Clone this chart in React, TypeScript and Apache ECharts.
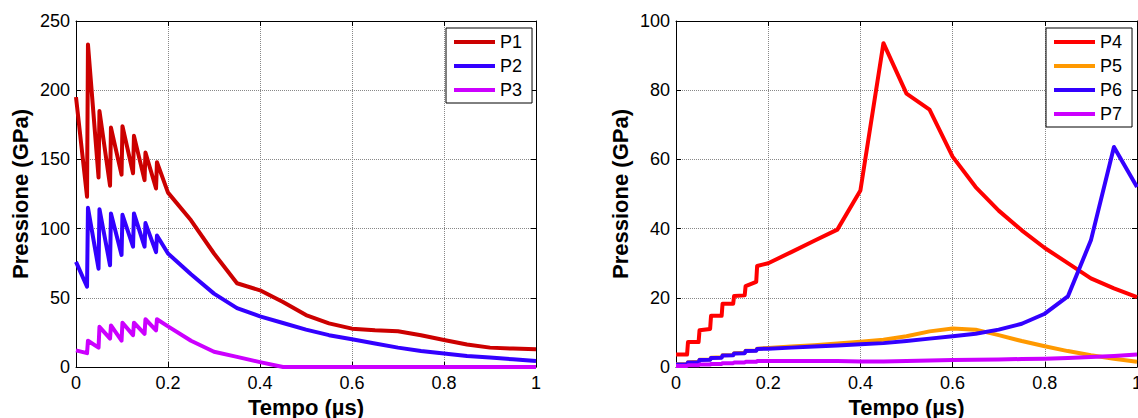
import React, { useEffect, useRef } from "react";
import * as echarts from "echarts";

// Shared time grid (µs)
const timeUs = [0, 0.024, 0.026, 0.049, 0.051, 0.074, 0.076, 0.099, 0.101, 0.124, 0.126, 0.149, 0.151, 0.174, 0.176, 0.2,
  0.25, 0.3, 0.35, 0.4, 0.45, 0.5, 0.55, 0.6, 0.65, 0.7, 0.75, 0.8, 0.85, 0.9, 0.95, 1];

// Left plot (GPa)
const p1 = [195, 123, 233, 137, 185, 131, 173, 139, 174, 140, 167, 135, 155, 129, 148, 126,
  106, 82, 60.5, 55.4, 47, 37.5, 31.5, 27.7, 26.5, 25.8, 23, 19.5, 16.3, 14, 13.3, 12.8];
const p2 = [76, 58, 115, 71, 114, 73.5, 111, 81, 110, 87, 111, 87, 104, 83, 95, 82,
  67, 53, 42.5, 36.6, 31.8, 27, 23, 20, 17, 14, 11.6, 9.7, 7.9, 6.8, 5.6, 4.3];
const p3 = [12, 10, 19, 14, 29, 20.5, 30, 19, 32, 23, 32, 24, 34.5, 26.5, 34.5, 29.4,
  19, 11, 7.3, 3.5, 0, 0, 0, 0, 0, 0, 0, 0, 0, 0, 0, 0];

// Right plot (GPa)
const p4 = [3.6, 3.6, 7.2, 7.2, 10.6, 11, 14.8, 14.8, 18.3, 18.3, 20.5, 20.7, 23.4, 24.6, 29.2, 30,
  33.2, 36.5, 39.7, 51, 93.6, 79, 74.4, 60.8, 52, 45.2, 39.5, 34.4, 30, 25.6, 22.7, 20.2];
const p5 = [0.8, 0.8, 1.4, 1.5, 2.1, 2.2, 2.7, 2.8, 3.4, 3.5, 4.0, 4.1, 4.7, 4.8, 5.3, 5.5,
  5.9, 6.3, 6.8, 7.3, 7.9, 8.9, 10.3, 11.1, 10.8, 9.2, 7.5, 6.0, 4.6, 3.4, 2.4, 1.5];
const p6 = [0.7, 0.8, 1.3, 1.4, 2.0, 2.1, 2.6, 2.7, 3.3, 3.4, 3.9, 4.0, 4.6, 4.7, 5.2, 5.3,
  5.6, 5.9, 6.2, 6.6, 6.9, 7.5, 8.2, 8.9, 9.6, 10.8, 12.5, 15.4, 20.4, 36.6, 63.6, 52];
const p7 = [0.3, 0.3, 0.5, 0.5, 0.7, 0.7, 0.9, 0.9, 1.1, 1.1, 1.3, 1.3, 1.5, 1.5, 1.7, 1.7,
  1.7, 1.7, 1.7, 1.6, 1.6, 1.7, 1.9, 2.0, 2.1, 2.2, 2.3, 2.4, 2.6, 2.9, 3.2, 3.6];

const leftNames = ["P1", "P2", "P3"];
const rightNames = ["P4", "P5", "P6", "P7"];
const leftValues = [p1, p2, p3];
const rightValues = [p4, p5, p6, p7];
const leftColors = ["#CC0000", "#3300FF", "#CC00FF"];
const rightColors = ["#FF0000", "#FF9900", "#3300FF", "#CC00FF"];

const xTitle = "Tempo (µs)";
const yTitle = "Pressione (GPa)";

const FONT = "'Liberation Sans', Arial, Helvetica, sans-serif";

function bottomX(gridIndex: number) {
  return {
    gridIndex,
    type: "value",
    min: 0,
    max: 1,
    interval: 0.2,
    name: xTitle,
    nameLocation: "middle",
    nameGap: 29,
    nameTextStyle: { fontSize: 22, fontWeight: "bold", color: "#000", fontFamily: FONT },
    axisLine: { show: true, onZero: false, lineStyle: { color: "#000", width: 1 } },
    axisTick: { show: true, inside: true, length: 5, lineStyle: { color: "#000" } },
    axisLabel: { fontSize: 18, color: "#000", margin: 7, fontFamily: FONT },
    splitLine: { show: true, lineStyle: { color: "#888", type: "dotted", width: 1 } },
  };
}
function topX(gridIndex: number) {
  return {
    gridIndex,
    type: "value",
    position: "top",
    min: 0,
    max: 1,
    interval: 0.2,
    axisLine: { show: true, onZero: false, lineStyle: { color: "#000", width: 1 } },
    axisTick: { show: true, inside: true, length: 5, lineStyle: { color: "#000" } },
    axisLabel: { show: false },
    splitLine: { show: false },
  };
}
function leftY(gridIndex: number, max: number, interval: number) {
  return {
    gridIndex,
    type: "value",
    min: 0,
    max,
    interval,
    name: yTitle,
    nameLocation: "middle",
    nameGap: 45,
    nameTextStyle: { fontSize: 22, fontWeight: "bold", color: "#000", fontFamily: FONT },
    axisLine: { show: true, onZero: false, lineStyle: { color: "#000", width: 1 } },
    axisTick: { show: true, inside: true, length: 5, lineStyle: { color: "#000" } },
    axisLabel: { fontSize: 18, color: "#000", margin: 6, fontFamily: FONT },
    splitLine: { show: true, lineStyle: { color: "#888", type: "dotted", width: 1 } },
  };
}
function rightY(gridIndex: number, max: number, interval: number) {
  return {
    gridIndex,
    type: "value",
    position: "right",
    min: 0,
    max,
    interval,
    axisLine: { show: true, onZero: false, lineStyle: { color: "#000", width: 1 } },
    axisTick: { show: true, inside: true, length: 5, lineStyle: { color: "#000" } },
    axisLabel: { show: false },
    splitLine: { show: false },
  };
}

function legend(names: string[], left: number) {
  return {
    data: names,
    orient: "vertical",
    left,
    top: 28,
    padding: [4, 10, 3, 8],
    itemGap: 4,
    itemWidth: 41,
    itemHeight: 4,
    icon: "rect",
    borderColor: "#000",
    borderWidth: 1,
    borderRadius: 0,
    backgroundColor: "#fff",
    selectedMode: false,
    textStyle: { fontSize: 18, color: "#000", lineHeight: 20, fontFamily: FONT },
  };
}

function lineSeries(name: string, values: number[], color: string, axisIdx: number) {
  return {
    name,
    type: "line",
    xAxisIndex: axisIdx,
    yAxisIndex: axisIdx,
    data: timeUs.map((t, i) => [t, values[i]]),
    symbol: "none",
    showSymbol: false,
    clip: false,
    lineStyle: { width: 4, color, join: "round" },
    itemStyle: { color },
  };
}

export default function App() {
  const ref = useRef<HTMLDivElement>(null);
  useEffect(() => {
    if (!ref.current) return;
    document.body.style.margin = "0";
    document.documentElement.style.overflow = "hidden";
    document.body.style.overflow = "hidden";
    const chart = echarts.init(ref.current, undefined, { renderer: "svg", width: 1138, height: 418 });
    chart.setOption({
      animation: false,
      backgroundColor: "#fff",
      textStyle: { fontFamily: FONT },
      grid: [
        { left: 76, top: 21, width: 460, height: 346, containLabel: false, outerBoundsMode: "none" },
        { left: 676, top: 21, width: 461, height: 346, containLabel: false, outerBoundsMode: "none" },
      ],
      xAxis: [bottomX(0), topX(0), bottomX(1), topX(1)],
      yAxis: [leftY(0, 250, 50), rightY(0, 250, 50), leftY(1, 100, 20), rightY(1, 100, 20)],
      legend: [legend(leftNames, 446), legend(rightNames, 1046)],
      series: [
        ...leftNames.map((n, i) => lineSeries(n, leftValues[i], leftColors[i], 0)),
        ...rightNames.map((n, i) => lineSeries(n, rightValues[i], rightColors[i], 2)),
      ],
    });
    return () => chart.dispose();
  }, []);
  return (
    <div
      ref={ref}
      style={{ position: "fixed", left: 0, top: 0, width: 1138, height: 418, overflow: "hidden" }}
    />
  );
}
